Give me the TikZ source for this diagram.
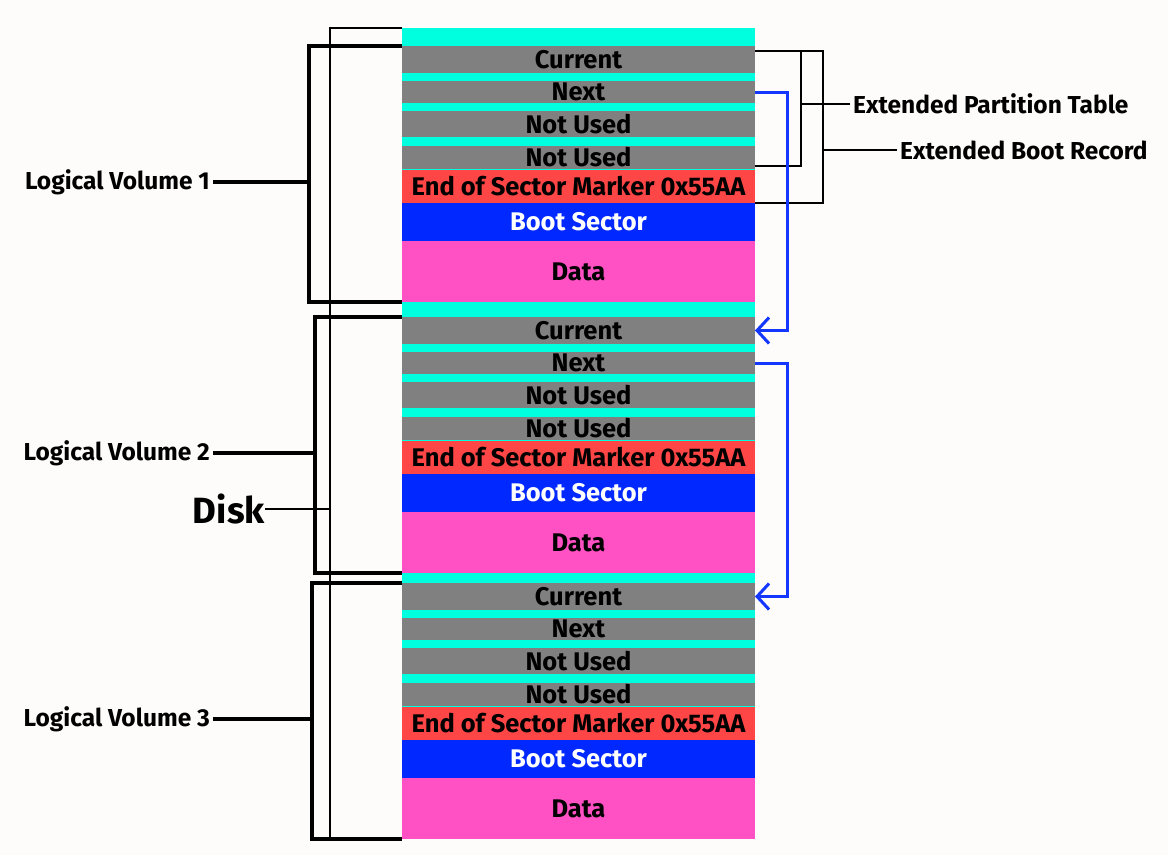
\documentclass[tikz,border=0pt]{standalone}
\usepackage{fontspec}
\setmainfont{Fira Sans}
\usetikzlibrary{positioning,arrows.meta}
\definecolor{diskCyan}{RGB}{0,255,222}
\definecolor{barGray}{RGB}{128,128,128}
\definecolor{eosRed}{RGB}{255,70,70}
\definecolor{bootBlue}{RGB}{0,40,255}
\definecolor{dataPink}{RGB}{255,80,196}
\definecolor{linkBlue}{RGB}{20,55,255}
\definecolor{paper}{RGB}{253,252,251}

\begin{document}
\begin{tikzpicture}[
  x=1pt, y=-1pt,
  bar/.style={
    rectangle, inner sep=0pt, outer sep=0pt, minimum width=353pt,
    font=\fontsize{25.5}{28}\selectfont\bfseries
  },
  lbl/.style={font=\fontsize{24.5}{28}\selectfont\bfseries, inner sep=3pt},
  brace/.style={line width=4pt},
  thinline/.style={line width=1.5pt},
  link/.style={draw=linkBlue, line width=3pt, -{Straight Barb[length=12pt,width=26pt]}},
]

\fill[paper] (0,0) rectangle (1168,855);
\useasboundingbox (0,0) rectangle (1168,855);

\node[fill=diskCyan, inner sep=0pt, minimum width=353pt, minimum height=811pt, anchor=north] (disk) at (578.5,28) {};

\foreach \vol/\ty/\bx in {1/46/309,2/317/315,3/583/312}{
  \node[bar, fill=barGray, minimum height=27pt, anchor=north] (cur\vol) at (578.5,\ty) {Current};
  \node[bar, fill=barGray, minimum height=22pt, below=8pt of cur\vol] (next\vol) {Next};
  \node[bar, fill=barGray, minimum height=26pt, below=8pt of next\vol] (nua\vol) {Not Used};
  \node[bar, fill=barGray, minimum height=23pt, below=9pt of nua\vol] (nub\vol) {Not Used};
  \node[bar, fill=eosRed, minimum height=33pt, below=1pt of nub\vol] (eos\vol) {End of Sector Marker 0x55AA};
  \node[bar, fill=bootBlue, text=white, minimum height=38pt, below=0pt of eos\vol] (boot\vol) {Boot Sector};
  \node[bar, fill=dataPink, minimum height=61pt, below=0pt of boot\vol] (data\vol) {Data};

  \coordinate (lvb\vol) at (\bx,\ty);
  \draw[brace] (cur\vol.north west) -- (cur\vol.north west -| lvb\vol)
    -- (data\vol.south west -| lvb\vol) -- (data\vol.south west);
  \node[lbl, anchor=east] (lv\vol) at (213,{\ty+136}) {Logical Volume \vol};
  \draw[brace] (lv\vol.east) -- (lv\vol.east -| lvb\vol);
}

\coordinate (dskx) at (330,28);
\draw[thinline] (disk.north west) -- (disk.north west -| dskx)
  -- (disk.south west -| dskx) -- (disk.south west);
\node[font=\fontsize{36.5}{42}\selectfont\bfseries, inner sep=0pt, anchor=east] (disklbl) at (265,509) {Disk};
\draw[thinline] (disklbl.east) -- (disklbl.east -| dskx);

\draw[thinline] ([yshift=-5pt]cur1.north east) -- ++(68,0) coordinate (ebrTop) |- (eos1.south east);
\draw[thinline] ([yshift=-5pt]cur1.north east) ++(46,0) coordinate (eptTop) |- ([yshift=3pt]nub1.south east);

\node[lbl, anchor=west] (ept) at (850,104) {Extended Partition Table};
\draw[thinline] (ept.west) -- (ept.west -| eptTop);
\node[lbl, anchor=west] (ebr) at (897,150) {Extended Boot Record};
\draw[thinline] (ebr.west) -- (ebr.west -| ebrTop);

\draw[link] (next1.east) -- ++(32,0) |- (cur2.east);
\draw[link] (next2.east) -- ++(32,0) |- (cur3.east);

\end{tikzpicture}
\end{document}
